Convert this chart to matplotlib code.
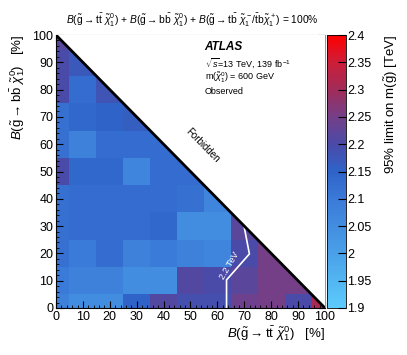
import numpy as np
import matplotlib
matplotlib.use("Agg")
import matplotlib.pyplot as plt
from matplotlib.colors import LinearSegmentedColormap
from matplotlib.ticker import MultipleLocator

plt.rcParams['font.family'] = ['Liberation Sans', 'DejaVu Sans']
plt.rcParams['mathtext.fontset'] = 'custom'
plt.rcParams['mathtext.rm'] = 'Liberation Sans'
plt.rcParams['mathtext.it'] = 'Liberation Sans:italic'
plt.rcParams['mathtext.bf'] = 'Liberation Sans:bold'

# Branching ratio grid (bin centres, %)
br_tt = [0, 10, 20, 30, 40, 50, 60, 70, 80, 90, 100]
br_bb = [0, 10, 20, 30, 40, 50, 60, 70, 80, 90, 100]

# observed limit on m(gluino) [TeV], one row per B(bb) value
limit_rows = [
    [2.08, 2.05, 2.05, 2.15, 2.21, 2.19, 2.19, 2.24, 2.25, 2.20, 2.31],
    [2.10, 2.08, 2.08, 2.05, 2.05, 2.21, 2.20, 2.22, 2.25, 2.25],
    [2.12, 2.10, 2.13, 2.08, 2.10, 2.08, 2.07, 2.20, 2.25],
    [2.12, 2.13, 2.13, 2.13, 2.14, 2.05, 2.05, 2.22],
    [2.12, 2.13, 2.13, 2.13, 2.13, 2.12, 2.07],
    [2.20, 2.14, 2.14, 2.07, 2.13, 2.13],
    [2.12, 2.08, 2.13, 2.13, 2.13],
    [2.12, 2.14, 2.15, 2.16],
    [2.20, 2.13, 2.18],
    [2.20, 2.17],
    [2.22],
]

# 2.2 TeV contour
contour_x = [63.4, 63.4, 71.9, 70.0]
contour_y = [0.0, 10.3, 19.8, 29.5]

Z = np.full((len(br_bb), len(br_tt)), np.nan)
for i, row in enumerate(limit_rows):
    Z[i, :len(row)] = row
Z = np.ma.masked_invalid(Z)

edges_x = np.clip(np.concatenate([[br_tt[0] - 5], np.array(br_tt) + 5]), 0, 100)
edges_y = np.clip(np.concatenate([[br_bb[0] - 5], np.array(br_bb) + 5]), 0, 100)

cmap = LinearSegmentedColormap.from_list('atlas', [
    (0.0, '#5ccbfc'),
    (0.2, '#4aa0e8'),
    (0.4, '#3a7ad8'),
    (0.5, '#2f63c8'),
    (0.6, '#4a4aa8'),
    (0.7, '#743f88'),
    (0.8, '#a02c5a'),
    (0.9, '#cc1e38'),
    (1.0, '#ff0000'),
])

fig = plt.figure(figsize=(4.07, 3.55), dpi=100)
ax = fig.add_axes([0.1376, 0.1324, 0.6609, 0.769])
cax = fig.add_axes([0.8034, 0.1324, 0.0467, 0.769])

mesh = ax.pcolormesh(edges_x, edges_y, Z, cmap=cmap, vmin=1.9, vmax=2.4)

# forbidden region
ax.fill([0, 100, 100], [100, 100, 0], color='white', zorder=3)
ax.plot([0, 100], [100, 0], color='black', lw=2, zorder=4)
ax.text(54.5, 59.5, 'Forbidden', rotation=-45.5, ha='center', va='center',
        fontsize=7, zorder=5)

ax.plot(contour_x, contour_y, color='white', lw=1.2, zorder=2)
ax.text(64.5, 15.5, '2.2 TeV', rotation=60, color='white', ha='center',
        va='center', fontsize=6.5, zorder=2)

ax.set_xlim(0, 100)
ax.set_ylim(0, 100)
ax.xaxis.set_major_locator(MultipleLocator(10))
ax.xaxis.set_minor_locator(MultipleLocator(2))
ax.yaxis.set_major_locator(MultipleLocator(10))
ax.yaxis.set_minor_locator(MultipleLocator(2))
ax.tick_params(which='both', direction='in', top=True, right=True, labelsize=9, pad=2)
ax.tick_params(which='major', length=5, width=0.8)
ax.tick_params(which='minor', length=2.5, width=0.6)
for s in ['top', 'right']:
    ax.spines[s].set_color('#999999')

ax.set_xlabel(r'$B(\tilde{\mathrm{g}} \rightarrow \mathrm{t}\bar{\mathrm{t}}\ \tilde{\chi}_1^0)$   [%]',
              fontsize=9.5, loc='right', labelpad=1)
ax.set_ylabel(r'$B(\tilde{\mathrm{g}} \rightarrow \mathrm{b}\bar{\mathrm{b}}\ \tilde{\chi}_1^0)$   [%]',
              fontsize=9.5, loc='top', labelpad=4)

cb = fig.colorbar(mesh, cax=cax)
cb.set_ticks(np.arange(1.9, 2.401, 0.05))
cb.set_ticklabels(['1.9', '1.95', '2', '2.05', '2.1', '2.15', '2.2', '2.25', '2.3', '2.35', '2.4'])
cb.ax.tick_params(direction='in', length=6, width=0.8, labelsize=9, pad=1)
cb.outline.set_linewidth(0.6)
cb.set_label(r'95% limit on m($\tilde{\mathrm{g}}$) [TeV]', fontsize=9.5, loc='top', labelpad=8)

fig.text(0.472, 0.943,
         r'$B(\tilde{\mathrm{g}} \rightarrow \mathrm{t}\bar{\mathrm{t}}\ \tilde{\chi}_1^0)$ + '
         r'$B(\tilde{\mathrm{g}} \rightarrow \mathrm{b}\bar{\mathrm{b}}\ \tilde{\chi}_1^0)$ + '
         r'$B(\tilde{\mathrm{g}} \rightarrow \mathrm{t}\bar{\mathrm{b}}\ \tilde{\chi}_1^- / \bar{\mathrm{t}}\mathrm{b}\tilde{\chi}_1^+)$ = 100%',
         ha='center', va='center', fontsize=7.4)

fig.text(0.503, 0.868, 'ATLAS', fontsize=8.5, fontweight='bold', style='italic', va='center')
fig.text(0.503, 0.823, r'$\sqrt{s}$=13 TeV, 139 fb$^{-1}$', fontsize=6.5, va='center')
fig.text(0.503, 0.781, r'm($\tilde{\chi}_1^0$) = 600 GeV', fontsize=6.5, va='center')
fig.text(0.503, 0.741, 'Observed', fontsize=6.5, va='center')

fig.savefig('out.png', dpi=100)
